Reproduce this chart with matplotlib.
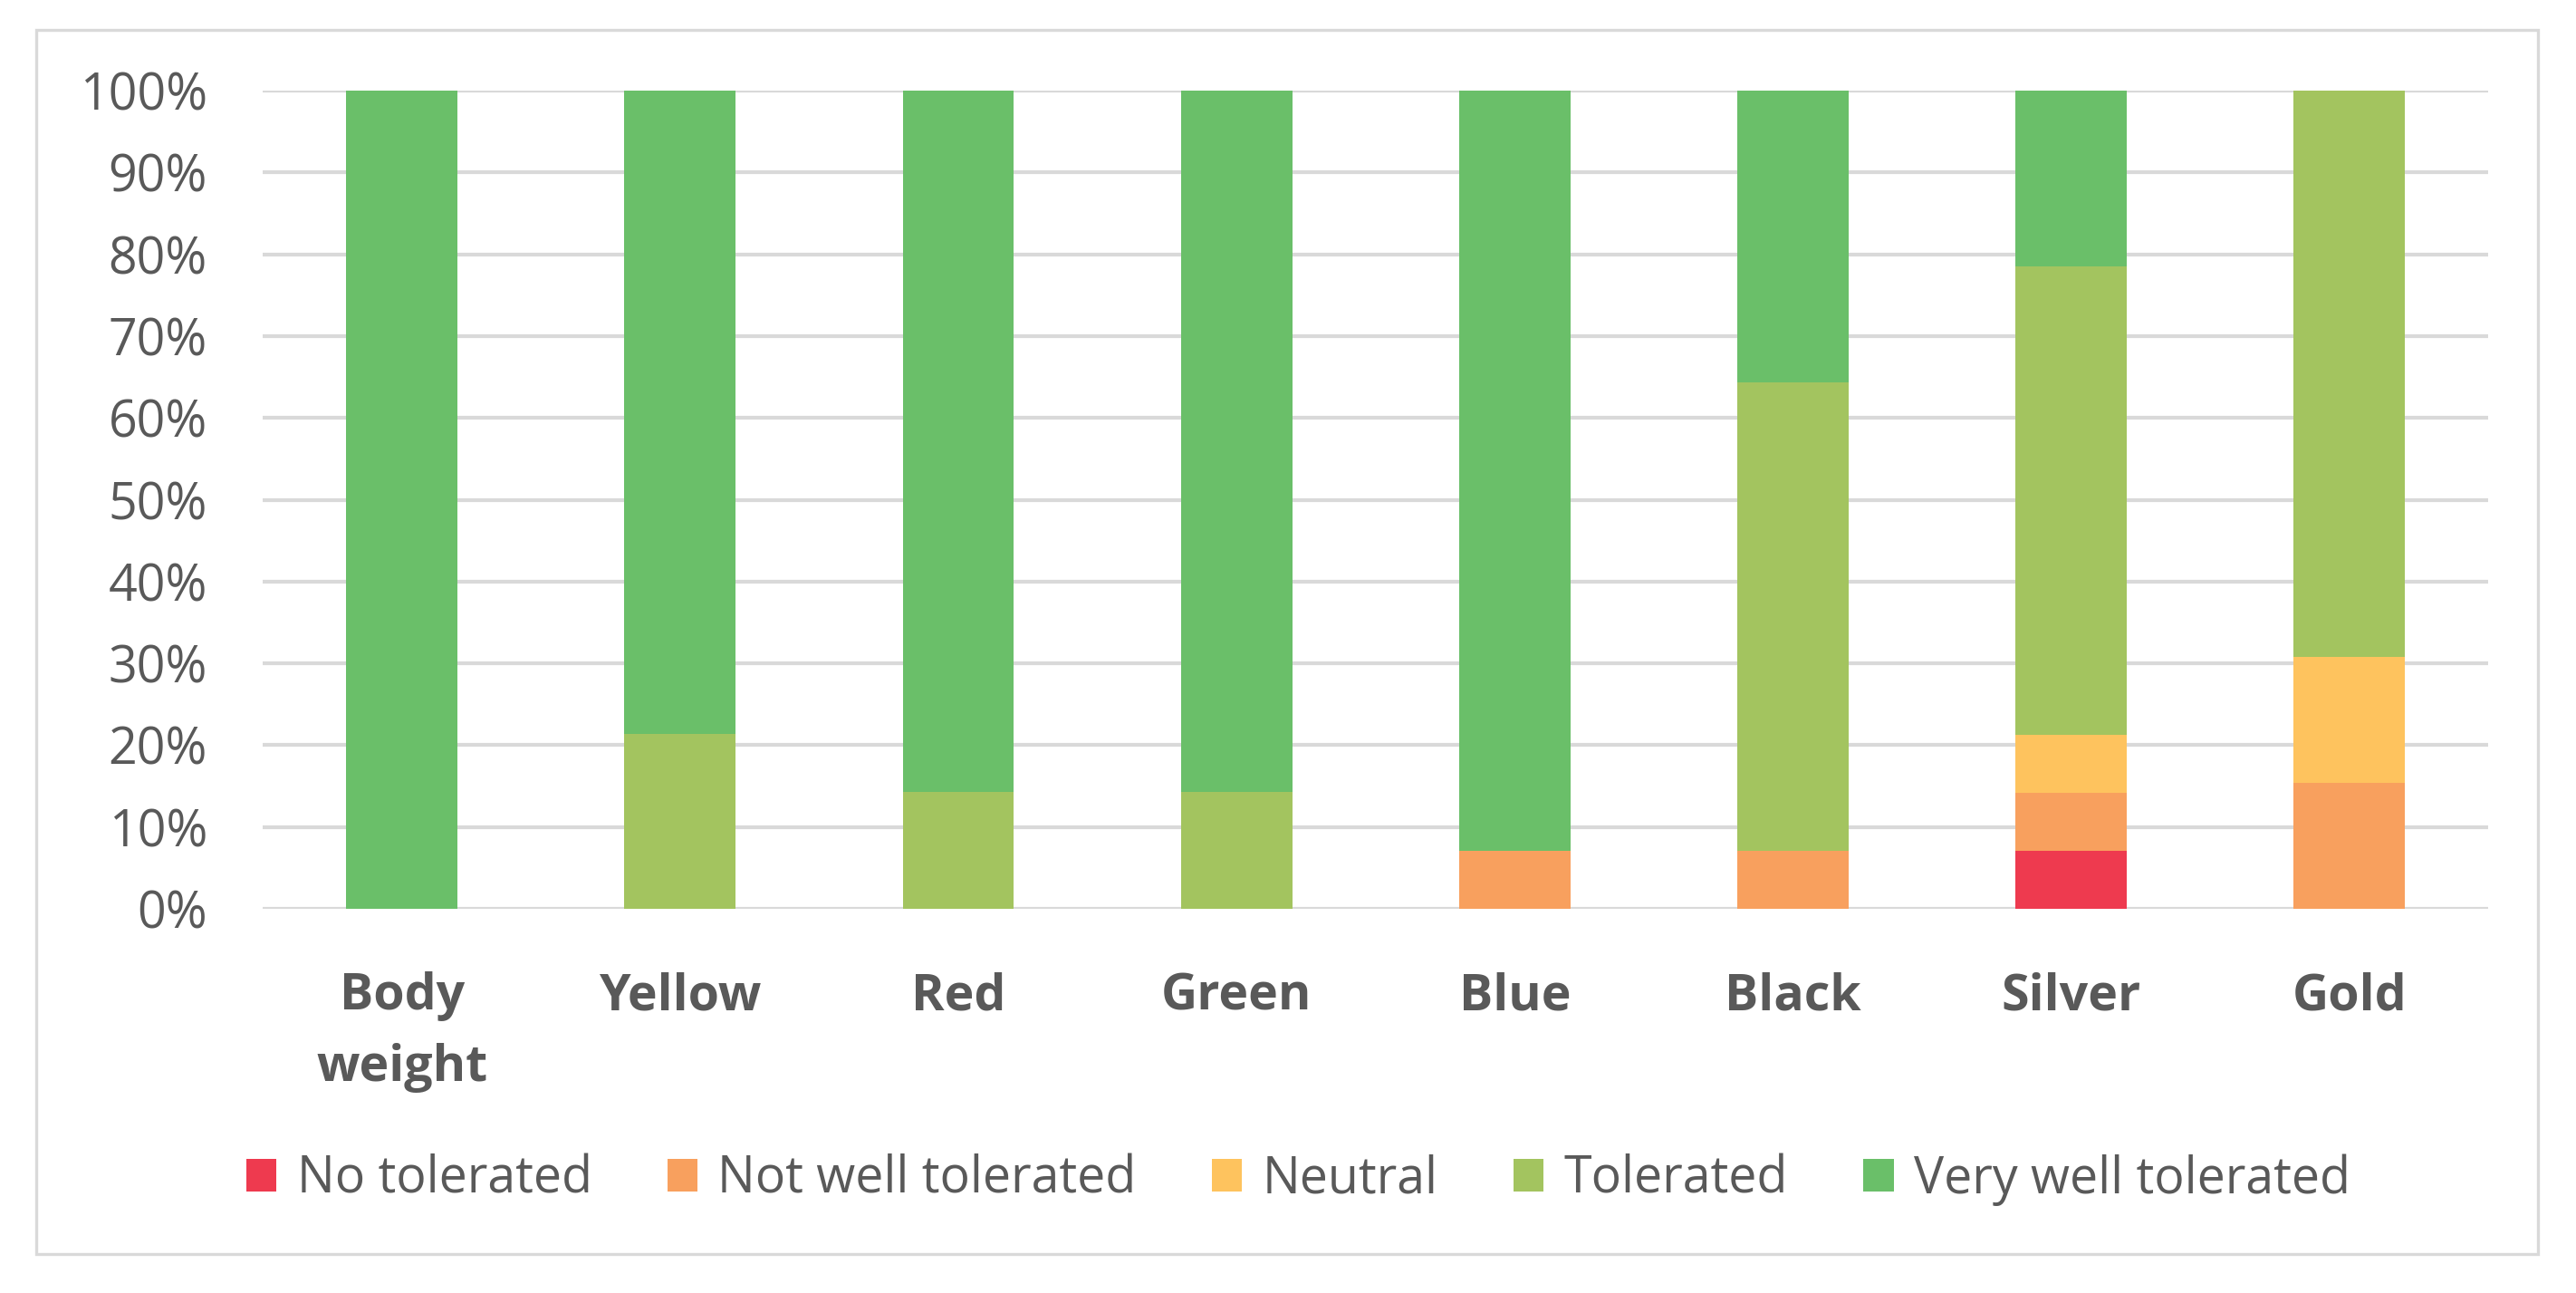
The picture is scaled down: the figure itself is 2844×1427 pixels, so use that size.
import numpy as np
import matplotlib.pyplot as plt
from matplotlib.patches import Rectangle

categories = ['Body\nweight', 'Yellow', 'Red', 'Green', 'Blue', 'Black', 'Silver', 'Gold']
series = ['No tolerated', 'Not well tolerated', 'Neutral', 'Tolerated', 'Very well tolerated']
no_tol = [0, 0, 0, 0, 0, 0, 7.1, 0]
not_well = [0, 0, 0, 0, 7.1, 7.1, 7.1, 15.4]
neutral = [0, 0, 0, 0, 0, 0, 7.1, 15.4]
tolerated = [0, 21.4, 14.3, 14.3, 0, 57.2, 57.2, 69.2]
very_well = [100, 78.6, 85.7, 85.7, 92.9, 35.7, 21.5, 0]
colors = ['#EE3A4F', '#F8A05E', '#FEC35E', '#A3C45F', '#6ABF69']

plt.rcParams['font.family'] = ['Open Sans', 'DejaVu Sans']
text_col = '#595959'

fig = plt.figure(figsize=(14.22, 7.135), dpi=200)
fig.patches.append(Rectangle((40 / 2844, 1 - 1384 / 1427), 2762 / 2844, 1351 / 1427,
                             transform=fig.transFigure, fill=False,
                             edgecolor='#D9D9D9', linewidth=1.2))
ax = fig.add_axes([0.102, 0.2971, 0.864, 0.6328])

x = np.arange(len(categories))
bottom = np.zeros(len(categories))
for name, vals, c in zip(series, [no_tol, not_well, neutral, tolerated, very_well], colors):
    ax.bar(x, vals, width=0.4, bottom=bottom, color=c, label=name, zorder=2)
    bottom += np.array(vals)

ax.set_xlim(-0.5, len(categories) - 0.5)
ax.set_ylim(0, 100)
ax.set_yticks(np.arange(0, 101, 10))
ax.set_yticklabels([f'{v}%' for v in range(0, 101, 10)])
ax.yaxis.grid(True, color='#D9D9D9', linewidth=1.5, zorder=0)
ax.set_axisbelow(True)
for s in ax.spines.values():
    s.set_visible(False)
ax.tick_params(axis='y', length=0, pad=22, labelsize=20, labelcolor=text_col)
ax.set_xticks(x)
ax.set_xticklabels(categories, fontweight='bold', linespacing=1.55)
ax.tick_params(axis='x', length=0, pad=25, labelsize=20, labelcolor=text_col)

fig.legend(loc='center', bbox_to_anchor=(0.504, 0.0877), ncol=5, frameon=False,
           fontsize=20, labelcolor=text_col, handlelength=0.6, handleheight=0.6,
           handletextpad=0.4, columnspacing=1.5)

fig.savefig('out.png', dpi=200, facecolor='white')
